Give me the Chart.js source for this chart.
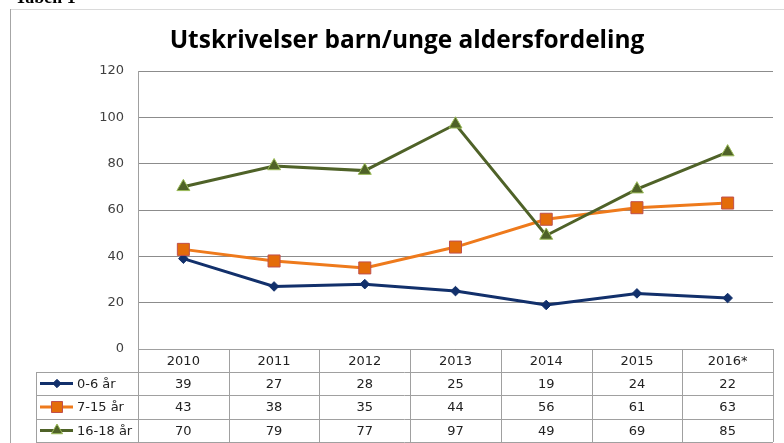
<!DOCTYPE html>
<html>
<head>
<meta charset="utf-8">
<script src="https://cdn.jsdelivr.net/npm/chart.js@4.4.1/dist/chart.umd.min.js"></script>
<style>
  html, body { margin:0; padding:0; background:#fff; }
  #wrap { position:relative; width:784px; height:443px; overflow:hidden; }
  canvas { display:block; }
</style>
</head>
<body>
<div id="wrap"><canvas id="c" width="784" height="443"></canvas></div>
<script>
const categories = ['2010', '2011', '2012', '2013', '2014', '2015', '2016*'];
const seriesNames = ['0-6 år', '7-15 år', '16-18 år'];
const age0to6 = [39, 27, 28, 25, 19, 24, 22];
const age7to15 = [43, 38, 35, 44, 56, 61, 63];
const age16to18 = [70, 79, 77, 97, 49, 69, 85];
const yTicks = [0, 20, 40, 60, 80, 100, 120];
const titleText = 'Utskrivelser barn/unge aldersfordeling';
const captionText = 'Tabell 1';

const seriesValues = [age0to6, age7to15, age16to18];
const styles = [
  { line:'#12306B', fill:'#12306B', border:'#12306B', shape:'rectRot', r:4.8, lr:4.2 },
  { line:'#EE7A1C', fill:'#E46C0A', border:'#C0504D', shape:'rect', r:8.5, lr:7.8 },
  { line:'#4F6228', fill:'#4F6228', border:'#9BBB59', shape:'triangle', r:7.5, lr:6.5 }
];
const FONT = '"DejaVu Sans", Verdana, sans-serif';

const tablePlugin = {
  id: 'tablePlugin',
  afterDraw(chart) {
    const ctx = chart.ctx;
    const xs = chart.scales.x;
    const area = chart.chartArea;
    const step = xs.getPixelForValue(1) - xs.getPixelForValue(0);
    const left = xs.getPixelForValue(0) - step / 2;
    const right = xs.getPixelForValue(categories.length - 1) + step / 2;
    const legLeft = 36;
    const rowY = [area.bottom, 372, 395, 419, 442];
    ctx.save();
    // frame
    ctx.strokeStyle = '#dadada'; ctx.lineWidth = 1;
    ctx.beginPath(); ctx.moveTo(10, 9.5); ctx.lineTo(784, 9.5); ctx.stroke();
    ctx.strokeStyle = '#a6a6a6';
    ctx.beginPath(); ctx.moveTo(10.5, 9); ctx.lineTo(10.5, 443); ctx.stroke();
    // caption (cut off at top)
    ctx.fillStyle = '#000';
    ctx.font = 'bold 18px "Liberation Serif", serif';
    ctx.textAlign = 'left'; ctx.textBaseline = 'alphabetic';
    ctx.fillText(captionText, 15, 3);
    // title
    let fs = 22;
    ctx.font = 'bold ' + fs + 'px "Open Sans", sans-serif';
    const w = ctx.measureText(titleText).width;
    fs = fs * 475 / w;
    ctx.font = 'bold ' + fs.toFixed(2) + 'px "Open Sans", sans-serif';
    ctx.textAlign = 'center';
    ctx.fillText(titleText, 407, 48);
    // table grid
    ctx.strokeStyle = '#a0a0a0'; ctx.lineWidth = 1;
    ctx.beginPath();
    ctx.moveTo(left, rowY[0] + 0.5); ctx.lineTo(right, rowY[0] + 0.5);
    for (let i = 1; i < rowY.length; i++) {
      ctx.moveTo(legLeft, rowY[i] + 0.5); ctx.lineTo(right, rowY[i] + 0.5);
    }
    for (let c = 0; c <= categories.length; c++) {
      const x = Math.round(left + c * step) + 0.5;
      ctx.moveTo(x, rowY[0]); ctx.lineTo(x, rowY[4]);
    }
    ctx.moveTo(legLeft + 0.5, rowY[1]); ctx.lineTo(legLeft + 0.5, rowY[4]);
    ctx.stroke();
    // header
    ctx.fillStyle = '#222';
    ctx.font = '13px ' + FONT;
    ctx.textAlign = 'center'; ctx.textBaseline = 'middle';
    categories.forEach((c, i) => {
      ctx.fillText(c, xs.getPixelForValue(i), (rowY[0] + rowY[1]) / 2 + 1);
    });
    // rows
    seriesValues.forEach((vals, s) => {
      const cy = (rowY[s + 1] + rowY[s + 2]) / 2 + 1;
      vals.forEach((v, i) => {
        ctx.textAlign = 'center';
        ctx.fillText(String(v), xs.getPixelForValue(i), cy);
      });
      const st = styles[s];
      const sy = cy - 1;
      ctx.strokeStyle = st.line; ctx.lineWidth = 3;
      ctx.beginPath(); ctx.moveTo(40, sy); ctx.lineTo(73, sy); ctx.stroke();
      ctx.fillStyle = st.fill; ctx.strokeStyle = st.border; ctx.lineWidth = 1;
      Chart.helpers.drawPoint(ctx, { pointStyle: st.shape, radius: st.lr, borderWidth: 1 }, 57, sy);
      ctx.fillStyle = '#222';
      ctx.textAlign = 'left';
      ctx.fillText(seriesNames[s], 77, cy);
    });
    ctx.restore();
  }
};

new Chart(document.getElementById('c'), {
  type: 'line',
  data: {
    labels: categories,
    datasets: seriesValues.map((vals, s) => ({
      label: seriesNames[s],
      data: vals,
      borderColor: styles[s].line,
      borderWidth: 3,
      pointStyle: styles[s].shape,
      pointRadius: styles[s].r,
      pointBackgroundColor: styles[s].fill,
      pointBorderColor: styles[s].border,
      pointBorderWidth: 1,
      tension: 0,
      order: 3 - s
    }))
  },
  options: {
    responsive: false,
    animation: false,
    layout: { padding: { top: 71, bottom: 94, left: 0, right: 11 } },
    plugins: { legend: { display: false }, title: { display: false }, tooltip: { enabled: false } },
    scales: {
      x: { type: 'category', offset: true, display: false },
      y: {
        min: 0, max: 120,
        afterBuildTicks(scale) { scale.ticks = yTicks.map(v => ({ value: v })); },
        afterFit(scale) { scale.width = 138; },
        ticks: { font: { family: FONT, size: 13 }, color: '#404040', padding: 14 },
        grid: { color: '#8c8c8c', drawTicks: false, lineWidth: 1 },
        border: { color: '#a0a0a0', width: 1 }
      }
    }
  },
  plugins: [tablePlugin]
});
</script>
</body>
</html>
